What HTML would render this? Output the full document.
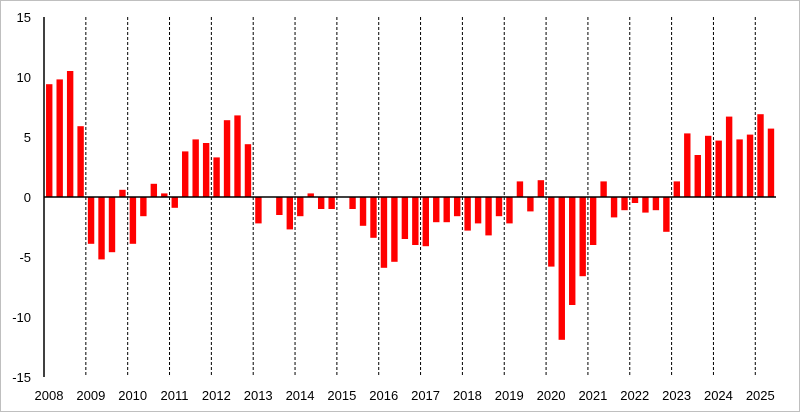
<!DOCTYPE html>
<html><head><meta charset="utf-8"><style>
html,body{margin:0;padding:0;background:#fff;}
svg{display:block;font-family:"Liberation Sans",sans-serif;}
</style></head><body>
<svg width="800" height="412" viewBox="0 0 800 412" xmlns="http://www.w3.org/2000/svg">
<rect x="0.5" y="0.5" width="799" height="411" fill="#fff" stroke="#bfbfbf"/>
<g id="grid" stroke="#000" stroke-width="1" stroke-dasharray="3,2"></g>
<g id="bars" fill="#ff0000"></g>
<line x1="44" y1="197" x2="776" y2="197" stroke="#000" stroke-width="1.5"/>
<line x1="44" y1="17" x2="44" y2="377" stroke="#000" stroke-width="1.5"/>
<g font-size="13" text-anchor="end" fill="#000">
<text x="31" y="22">15</text><text x="31" y="82">10</text><text x="31" y="142">5</text>
<text x="31" y="202">0</text><text x="31" y="262">-5</text><text x="31" y="322">-10</text><text x="31" y="382">-15</text>
</g>
<g id="xl" font-size="13" text-anchor="middle" fill="#000"></g>
<script>
var v=[9.4,9.8,10.5,5.9,-3.9,-5.2,-4.6,0.6,-3.9,-1.6,1.1,0.3,-0.9,3.8,4.8,4.5,3.3,6.4,6.8,4.4,-2.2,0,-1.5,-2.7,-1.6,0.3,-1.0,-1.0,0,-1.0,-2.4,-3.4,-5.9,-5.4,-3.5,-4.0,-4.1,-2.1,-2.1,-1.6,-2.8,-2.2,-3.2,-1.6,-2.2,1.3,-1.2,1.4,-5.8,-11.9,-9.0,-6.6,-4.0,1.3,-1.7,-1.1,-0.5,-1.3,-1.1,-2.9,1.3,5.3,3.5,5.1,4.7,6.7,4.8,5.2,6.9,5.7];
var ns="http://www.w3.org/2000/svg",q=10.46,b=document.getElementById("bars"),g=document.getElementById("grid"),xl=document.getElementById("xl");
v.forEach(function(d,i){if(!d)return;var c=44+q*(i+0.5),r=document.createElementNS(ns,"rect");var y=197-d*12;r.setAttribute("x",c-3.2);r.setAttribute("width",6.4);r.setAttribute("y",Math.min(y,197));r.setAttribute("height",Math.abs(d*12));b.appendChild(r);});
for(var k=0;k<18;k++){var x=44+k*4*q;if(k>0){var l=document.createElementNS(ns,"line");l.setAttribute("x1",x);l.setAttribute("x2",x);l.setAttribute("y1",17);l.setAttribute("y2",377);g.appendChild(l);}
var t=document.createElementNS(ns,"text");t.setAttribute("x",x+5);t.setAttribute("y",400);t.textContent=2008+k;xl.appendChild(t);}
</script>
</svg>
</body></html>
